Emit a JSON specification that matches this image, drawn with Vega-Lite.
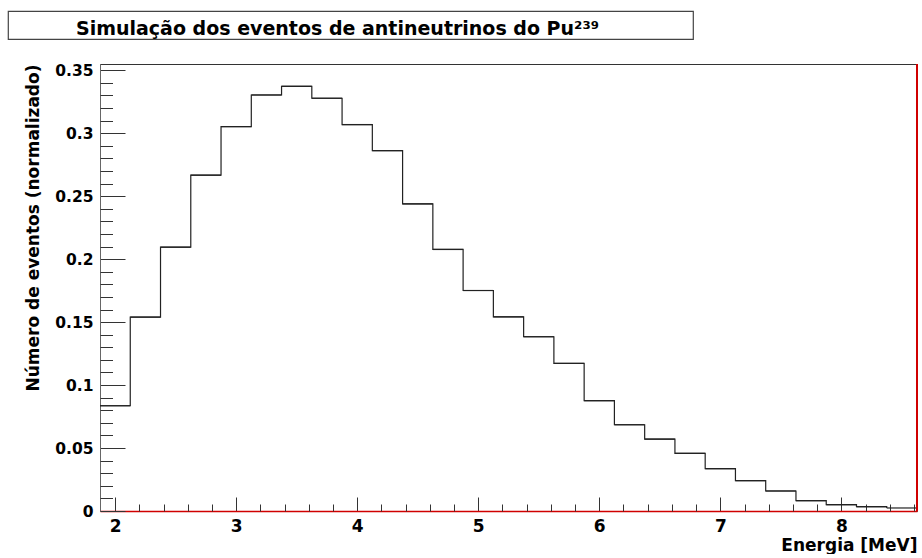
{
  "$schema": "https://vega.github.io/schema/vega-lite/v6.json",
  "background": "white",
  "padding": {"left": 7, "top": 10, "right": 0, "bottom": 0},
  "spacing": 22,
  "config": {"font": "DejaVu Sans"},
  "vconcat": [
    {
      "width": 685,
      "height": 28,
      "view": {"stroke": "#444", "strokeWidth": 1.2},
      "data": {"values": [{"t": "Simulação dos eventos de antineutrinos do Pu²³⁹"}]},
      "mark": {"type": "text", "font": "DejaVu Sans", "fontWeight": "bold", "fontSize": 19, "baseline": "alphabetic", "align": "center", "dy": 10, "dx": -13, "color": "#000"},
      "encoding": {"text": {"field": "t", "type": "nominal"}}
    },
    {
      "spacing": 14,
      "hconcat": [
        {
          "width": 1,
          "height": 447,
          "view": {"stroke": "transparent"},
          "data": {"values": [{"t": ""}]},
          "mark": {"type": "text"},
          "encoding": {"text": {"field": "t", "type": "nominal"}}
        },
        {
          "width": 817,
          "height": 447,
          "view": {"stroke": "#333", "strokeWidth": 1},
          "data": {"values": [
            {"lo": 1.875, "hi": 2.125, "count": 0.0836},
            {"lo": 2.125, "hi": 2.375, "count": 0.154},
            {"lo": 2.375, "hi": 2.625, "count": 0.2095},
            {"lo": 2.625, "hi": 2.875, "count": 0.2667},
            {"lo": 2.875, "hi": 3.125, "count": 0.3053},
            {"lo": 3.125, "hi": 3.375, "count": 0.3304},
            {"lo": 3.375, "hi": 3.625, "count": 0.3373},
            {"lo": 3.625, "hi": 3.875, "count": 0.3278},
            {"lo": 3.875, "hi": 4.125, "count": 0.3069},
            {"lo": 4.125, "hi": 4.375, "count": 0.2862},
            {"lo": 4.375, "hi": 4.625, "count": 0.2439},
            {"lo": 4.625, "hi": 4.875, "count": 0.2077},
            {"lo": 4.875, "hi": 5.125, "count": 0.1751},
            {"lo": 5.125, "hi": 5.375, "count": 0.1542},
            {"lo": 5.375, "hi": 5.625, "count": 0.1384},
            {"lo": 5.625, "hi": 5.875, "count": 0.1172},
            {"lo": 5.875, "hi": 6.125, "count": 0.0876},
            {"lo": 6.125, "hi": 6.375, "count": 0.0685},
            {"lo": 6.375, "hi": 6.625, "count": 0.0571},
            {"lo": 6.625, "hi": 6.875, "count": 0.0458},
            {"lo": 6.875, "hi": 7.125, "count": 0.0336},
            {"lo": 7.125, "hi": 7.375, "count": 0.0241},
            {"lo": 7.375, "hi": 7.625, "count": 0.0159},
            {"lo": 7.625, "hi": 7.875, "count": 0.0082},
            {"lo": 7.875, "hi": 8.125, "count": 0.005},
            {"lo": 8.125, "hi": 8.375, "count": 0.0034},
            {"lo": 8.375, "hi": 8.625, "count": 0.0024}
          ]},
          "resolve": {"axis": {"x": "independent", "y": "independent"}},
          "layer": [
            {
              "mark": {"type": "rule", "color": "#222", "strokeWidth": 1.2},
              "encoding": {
                "x": {
                  "field": "lo", "type": "quantitative",
                  "scale": {"domain": [1.875, 8.625], "nice": false, "zero": false},
                  "axis": {
                    "orient": "bottom", "values": [2, 3, 4, 5, 6, 7, 8], "format": "d",
                    "grid": false, "tickSize": -14, "tickColor": "#333", "tickWidth": 1,
                    "domainColor": "#d00000", "domainWidth": 1.5,
                    "labelFont": "DejaVu Sans", "labelFontWeight": "bold", "labelFontSize": 17, "labelColor": "#000",
                    "labelPadding": 21, "labelFlush": false, "labelOverlap": false,
                    "title": "Energia [MeV]", "titleAnchor": "end", "titleFont": "DejaVu Sans", "titleFontWeight": "bold",
                    "titleFontSize": 17, "titleColor": "#000", "titlePadding": 3
                  }
                },
                "x2": {"field": "hi"},
                "y": {
                  "field": "count", "type": "quantitative",
                  "scale": {"domain": [0, 0.355], "nice": false},
                  "axis": {
                    "orient": "left", "values": [0, 0.05, 0.1, 0.15, 0.2, 0.25, 0.3, 0.35], "format": ".2~f",
                    "grid": false, "tickSize": -25, "tickColor": "#333", "tickWidth": 1,
                    "domainColor": "#666", "domainWidth": 1,
                    "labelFont": "DejaVu Sans", "labelFontWeight": "bold", "labelFontSize": 15.5, "labelColor": "#000",
                    "labelPadding": 32, "labelOverlap": false,
                    "title": "Número de eventos (normalizado)", "titleAnchor": "end", "titleFont": "DejaVu Sans",
                    "titleFontWeight": "bold", "titleFontSize": 17, "titleColor": "#000", "titlePadding": 12
                  }
                }
              }
            },
            {
              "mark": {"type": "line", "interpolate": "step-after", "color": "#222", "strokeWidth": 1.2},
              "encoding": {
                "x": {
                  "field": "lo", "type": "quantitative",
                  "axis": {
                    "orient": "bottom",
                    "values": [2.2, 2.4, 2.6, 2.8, 3.2, 3.4, 3.6, 3.8, 4.2, 4.4, 4.6, 4.8, 5.2, 5.4, 5.6, 5.8, 6.2, 6.4, 6.6, 6.8, 7.2, 7.4, 7.6, 7.8, 8.2, 8.4, 8.6],
                    "labels": false, "domain": false, "grid": false, "title": null,
                    "tickSize": -7, "tickColor": "#333", "tickWidth": 1
                  }
                },
                "y": {
                  "field": "count", "type": "quantitative",
                  "axis": {
                    "orient": "left",
                    "values": [0.01, 0.02, 0.03, 0.04, 0.06, 0.07, 0.08, 0.09, 0.11, 0.12, 0.13, 0.14, 0.16, 0.17, 0.18, 0.19, 0.21, 0.22, 0.23, 0.24, 0.26, 0.27, 0.28, 0.29, 0.31, 0.32, 0.33, 0.34],
                    "labels": false, "domain": false, "grid": false, "title": null,
                    "tickSize": -12.5, "tickColor": "#333", "tickWidth": 1
                  }
                }
              }
            },
            {
              "mark": {"type": "rule", "color": "#d00000", "strokeWidth": 1.5},
              "encoding": {"x": {"datum": 8.625, "type": "quantitative", "axis": null}}
            }
          ]
        }
      ]
    }
  ]
}
